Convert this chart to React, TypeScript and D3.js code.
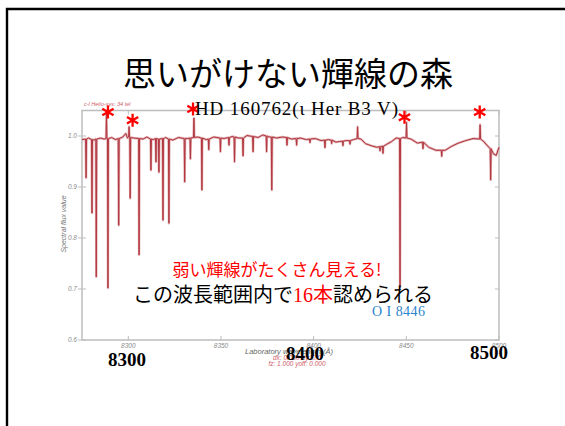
import React from "react";
import * as d3 from "d3";

// Axis ticks
const wlTicks = [8300, 8350, 8400, 8450, 8500];
const fluxTicks = [0.6, 0.7, 0.8, 0.9, 1.0];

// Continuum samples: [wavelength (Å), normalised flux]
const continuum: [number, number][] = [
  [8275, 0.993], [8278.5, 0.996], [8281.5, 0.992], [8285, 0.996], [8287, 0.994],
  [8291, 0.997], [8293, 0.993], [8297, 0.998], [8298.6, 1.005], [8299.5, 0.996],
  [8303, 0.996], [8308, 0.994], [8310, 0.998], [8313.5, 0.993], [8320.2, 0.997],
  [8324, 0.992], [8327, 0.997], [8332, 0.995], [8337.5, 0.998], [8342, 0.993],
  [8346, 0.998], [8351.5, 0.995], [8356, 0.999], [8359.5, 0.996], [8364, 1.001],
  [8370, 0.997], [8372.5, 1.002], [8376, 0.998], [8380, 0.996], [8383, 0.998],
  [8388, 0.994], [8393, 0.996], [8396, 0.993], [8401, 0.995], [8404, 0.991],
  [8408, 0.993], [8412, 0.988], [8417.5, 0.991], [8421.5, 0.993], [8425.5, 0.994],
  [8428, 0.985], [8431, 0.981], [8434, 0.978], [8439.5, 0.984], [8442, 0.989],
  [8444.5, 0.996], [8448, 0.997], [8452.5, 0.994], [8456, 0.986], [8462, 0.978],
  [8466, 0.972], [8471, 0.972], [8474, 0.979], [8478, 0.986], [8482, 0.991],
  [8486, 0.995], [8491.5, 0.99], [8493.5, 0.982], [8497, 0.965], [8498.5, 0.962],
  [8500, 0.978],
];

// Absorption lines: [wavelength, local continuum, line-core flux]
const absorption: [number, number, number][] = [
  [8277.2, 0.994, 0.918], [8280.4, 0.993, 0.849], [8282.7, 0.994, 0.724],
  [8289.0, 0.995, 0.702], [8294.8, 0.995, 0.825], [8301.0, 0.997, 0.878],
  [8305.8, 0.995, 0.767], [8312.2, 0.994, 0.933], [8314.9, 0.995, 0.949],
  [8316.5, 0.994, 0.929], [8318.7, 0.995, 0.835], [8321.9, 0.994, 0.829],
  [8330.4, 0.995, 0.91], [8333.5, 0.996, 0.955], [8339.7, 0.996, 0.894],
  [8343.4, 0.994, 0.973], [8349.7, 0.996, 0.969], [8354.3, 0.997, 0.982],
  [8357.3, 0.998, 0.949], [8361.9, 0.996, 0.961], [8367.3, 0.999, 0.969],
  [8374.6, 1.0, 0.969], [8377.4, 0.998, 0.894], [8385.6, 0.997, 0.982],
  [8390.8, 0.995, 0.982], [8398.0, 0.994, 0.987], [8406.1, 0.992, 0.977],
  [8409.7, 0.992, 0.985], [8415.8, 0.99, 0.981], [8419.6, 0.991, 0.984],
  [8435.8, 0.979, 0.971], [8437.4, 0.98, 0.966], [8446.6, 0.995, 0.704],
  [8459.0, 0.988, 0.975], [8469.1, 0.972, 0.96], [8495.5, 0.975, 0.914],
];

// Emission lines: [wavelength, local continuum, peak flux]
const emission: [number, number, number][] = [
  [8288.2, 0.995, 1.045], [8300.4, 0.998, 1.018], [8335.4, 0.997, 1.035],
  [8423.7, 0.995, 1.018], [8450.1, 0.996, 1.027], [8489.8, 0.994, 1.022],
];

// Asterisk annotations on emission features: [wavelength, flux level]
const starred: [number, number][] = [
  [8289.0, 1.047], [8302.3, 1.031], [8334.9, 1.053], [8449.0, 1.037], [8489.6, 1.047],
];

const HALF = 0.25;

function spectrumPoints(): [number, number][] {
  const pts: [number, number][] = [...continuum];
  for (const [wl, base, tip] of absorption) {
    pts.push([wl - HALF, base], [wl, tip], [wl + HALF, base]);
  }
  for (const [wl, base, peak] of emission) {
    pts.push([wl - HALF, base], [wl, peak], [wl + HALF, base]);
  }
  return pts.sort((a, b) => a[0] - b[0]);
}

function Asterisk({ cx, cy, r }: { cx: number; cy: number; r: number }) {
  const c = Math.cos(Math.PI / 6) * r;
  const s = Math.sin(Math.PI / 6) * r;
  const d = `M${cx},${cy - r}L${cx},${cy + r}M${cx - c},${cy - s}L${cx + c},${cy + s}M${cx - c},${cy + s}L${cx + c},${cy - s}`;
  return <path d={d} stroke="#ff0000" strokeWidth={2.3} fill="none" />;
}

export default function App() {
  const x = d3.scaleLinear().domain([8275, 8500]).range([82, 499]);
  const y = d3.scaleLinear().domain([0.6, 1.05]).range([340, 110.5]);
  const line = d3
    .line<[number, number]>()
    .x((d) => x(d[0]))
    .y((d) => y(d[1]));
  const path = line(spectrumPoints()) || "";

  const [x0, x1] = x.range();
  const [yb, yt] = y.range();
  const axisColor = "#bdbdbd";
  const tickText = "#8a8a8a";
  const jp = "'Noto Sans CJK JP', 'Noto Sans', sans-serif";
  const serif = "'Liberation Serif', 'DejaVu Serif', serif";
  const small = "'Liberation Sans', Arial, sans-serif";

  return (
    <svg
      width={565}
      height={426}
      viewBox="0 0 565 426"
      style={{ position: "absolute", left: 0, top: 0, background: "#fff" }}
    >
      <rect width={565} height={426} fill="#fff" />
      {/* slide border */}
      <path d="M7,426V9H565" stroke="#000" strokeWidth={2.4} fill="none" />

      {/* title */}
      <text x={288} y={86} textAnchor="middle" fontFamily={jp} fontSize={33} fill="#000">
        思いがけない輝線の森
      </text>

      {/* plot frame */}
      <rect x={x0} y={yt} width={x1 - x0} height={yb - yt} fill="none" stroke={axisColor} strokeWidth={1.5} />

      {/* ticks */}
      {fluxTicks.map((t) => (
        <g key={"fy" + t}>
          <line x1={x0} x2={x0 + 4} y1={y(t)} y2={y(t)} stroke={axisColor} strokeWidth={1} />
          <line x1={x0 - 4} x2={x0} y1={y(t)} y2={y(t)} stroke={axisColor} strokeWidth={1} />
          <line x1={x1 - 4} x2={x1} y1={y(t)} y2={y(t)} stroke={axisColor} strokeWidth={1} />
          <text
            x={x0 - 5}
            y={y(t) + 2.3}
            textAnchor="end"
            fontFamily={small}
            fontStyle="italic"
            fontSize={6.5}
            fill={tickText}
          >
            {t.toFixed(1)}
          </text>
        </g>
      ))}
      {wlTicks.map((t) => (
        <g key={"wx" + t}>
          <line x1={x(t)} x2={x(t)} y1={yb} y2={yb - 4} stroke={axisColor} strokeWidth={1} />
          <line x1={x(t)} x2={x(t)} y1={yt} y2={yt + 4} stroke={axisColor} strokeWidth={1} />
          <text
            x={x(t)}
            y={yb + 8}
            textAnchor="middle"
            fontFamily={small}
            fontStyle="italic"
            fontSize={6.5}
            fill={tickText}
          >
            {t}
          </text>
        </g>
      ))}

      {/* axis titles and header */}
      <text
        transform={`translate(66,224) rotate(-90)`}
        textAnchor="middle"
        fontFamily={small}
        fontStyle="italic"
        fontSize={7}
        fill="#777"
      >
        Spectral flux value
      </text>
      <text x={289} y={354} textAnchor="middle" fontFamily={small} fontStyle="italic" fontSize={7.5} fill="#666">
        Laboratory wavelength (Å)
      </text>
      <text x={297} y={359.5} textAnchor="middle" fontFamily={small} fontStyle="italic" fontSize={6.5} fill="#d0606a">
        dx: 0.000  dy: 0.0
      </text>
      <text x={297} y={366} textAnchor="middle" fontFamily={small} fontStyle="italic" fontSize={6.5} fill="#d0606a">
        fz: 1.000  yoff: 0.000
      </text>
      <text x={84} y={106} fontFamily={small} fontStyle="italic" fontSize={5.5} fill="#d0606a">
        c-l Helio-sys: 34 tel
      </text>

      {/* spectrum */}
      <path d={path} fill="none" stroke="#dba3a7" strokeWidth={2.4} strokeLinejoin="round" opacity={0.85} />
      <path d={path} fill="none" stroke="#b3363f" strokeWidth={1} strokeLinejoin="round" />

      {/* emission markers */}
      {starred.map(([wl, f]) => (
        <Asterisk key={"s" + wl} cx={x(wl)} cy={y(f)} r={6.5} />
      ))}

      {/* annotations */}
      <text x={195} y={114.5} fontFamily={serif} fontSize={19} fill="#000" textLength={203} lengthAdjust="spacing">
        HD 160762(ι Her B3 V)
      </text>
      <text x={277} y={276} textAnchor="middle" fontFamily={jp} fontSize={17} fill="#ff0000">
        弱い輝線がたくさん見える!
      </text>
      <text x={283} y={301.5} textAnchor="middle" fontFamily={jp} fontSize={20} fill="#000">
        この波長範囲内で
        <tspan fill="#ff0000" fontFamily={serif}>16</tspan>
        <tspan fill="#ff0000">本</tspan>
        認められる
      </text>
      <text x={372} y={316} fontFamily={serif} fontSize={14} fill="#2c84cc" textLength={53} lengthAdjust="spacing">
        O I 8446
      </text>

      {/* wavelength call-outs */}
      <text x={127} y={366} textAnchor="middle" fontFamily={serif} fontWeight="bold" fontSize={19} fill="#000">
        8300
      </text>
      <text x={305} y={360} textAnchor="middle" fontFamily={serif} fontWeight="bold" fontSize={19} fill="#000">
        8400
      </text>
      <text x={489} y={359} textAnchor="middle" fontFamily={serif} fontWeight="bold" fontSize={19} fill="#000">
        8500
      </text>
    </svg>
  );
}
